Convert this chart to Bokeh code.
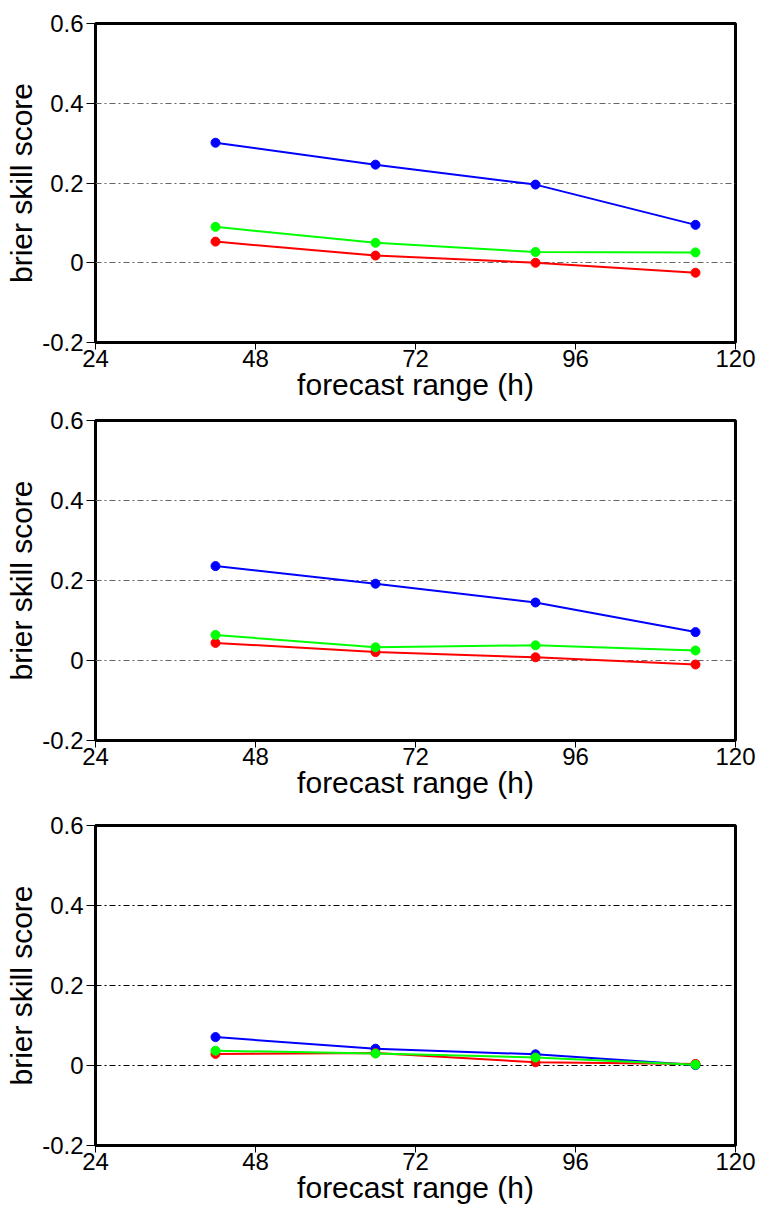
from bokeh.plotting import figure
from bokeh.layouts import column
from bokeh.models import FixedTicker
from bokeh.embed import file_html
from bokeh.resources import INLINE

# ---- data ----
hours = [42, 66, 90, 114]
x_ticks = [24, 48, 72, 96, 120]
y_ticks = [-0.2, 0.0, 0.2, 0.4, 0.6]
y_tick_labels = ["-0.2", "0", "0.2", "0.4", "0.6"]

p1_blue = [0.301, 0.246, 0.196, 0.095]
p1_green = [0.090, 0.050, 0.027, 0.026]
p1_red = [0.053, 0.018, 0.000, -0.025]

p2_blue = [0.236, 0.192, 0.145, 0.071]
p2_green = [0.064, 0.033, 0.038, 0.025]
p2_red = [0.044, 0.021, 0.008, -0.010]

p3_blue = [0.071, 0.042, 0.028, 0.001]
p3_green = [0.037, 0.030, 0.020, 0.002]
p3_red = [0.029, 0.031, 0.008, 0.004]

panels = [
    (p1_blue, p1_green, p1_red, "#666666", 23, 319, 66),
    (p2_blue, p2_green, p2_red, "#666666", 12, 320, 70),
    (p3_blue, p3_green, p3_red, "#000000", 15, 320, 62),
]

FONT = "Liberation Sans"
figs = []
for blue, green, red, gridc, top, fh, bottom in panels:
    p = figure(frame_width=640, frame_height=fh,
               x_range=(24, 120), y_range=(-0.2, 0.6),
               output_backend="svg", toolbar_location=None,
               min_border_left=95, min_border_right=22,
               min_border_top=top, min_border_bottom=bottom)
    p.outline_line_color = "black"
    p.outline_line_width = 3
    p.xgrid.grid_line_color = None
    p.ygrid.grid_line_color = gridc
    p.ygrid.grid_line_dash = "6 3 2 3"
    p.ygrid.grid_line_width = 1
    p.ygrid.ticker = FixedTicker(ticks=[0.0, 0.2, 0.4])

    p.xaxis.ticker = FixedTicker(ticks=x_ticks)
    p.yaxis.ticker = FixedTicker(ticks=y_ticks)
    p.yaxis.major_label_overrides = {t: l for t, l in zip(y_ticks, y_tick_labels)}
    for ax in (p.xaxis[0], p.yaxis[0]):
        ax.axis_line_color = None
        ax.major_tick_in = 0
        ax.major_tick_line_color = "black"
        ax.major_tick_line_width = 1
        ax.minor_tick_line_color = None
        ax.major_label_text_font = FONT
        ax.major_label_text_font_size = "24px"
        ax.major_label_text_color = "black"
        ax.axis_label_text_font = FONT
        ax.axis_label_text_font_size = "30px"
        ax.axis_label_text_font_style = "normal"
        ax.axis_label_text_color = "black"
    p.xaxis.major_tick_out = 7
    p.yaxis.major_tick_out = 9
    p.xaxis.major_label_standoff = 0
    p.yaxis.major_label_standoff = 3
    p.xaxis.axis_label = "forecast range (h)"
    p.yaxis.axis_label = "brier skill score"
    p.xaxis.axis_label_standoff = -2
    p.yaxis.axis_label_standoff = 1

    for vals, col in ((blue, "#0000ff"), (red, "#ff0000"), (green, "#00ff00")):
        p.line(hours, vals, line_color=col, line_width=2)
        p.scatter(hours, vals, size=9, fill_color=col, line_color=col)
    figs.append(p)

layout = column(*figs, spacing=0)
open("out.html", "w").write(file_html(layout, INLINE))
